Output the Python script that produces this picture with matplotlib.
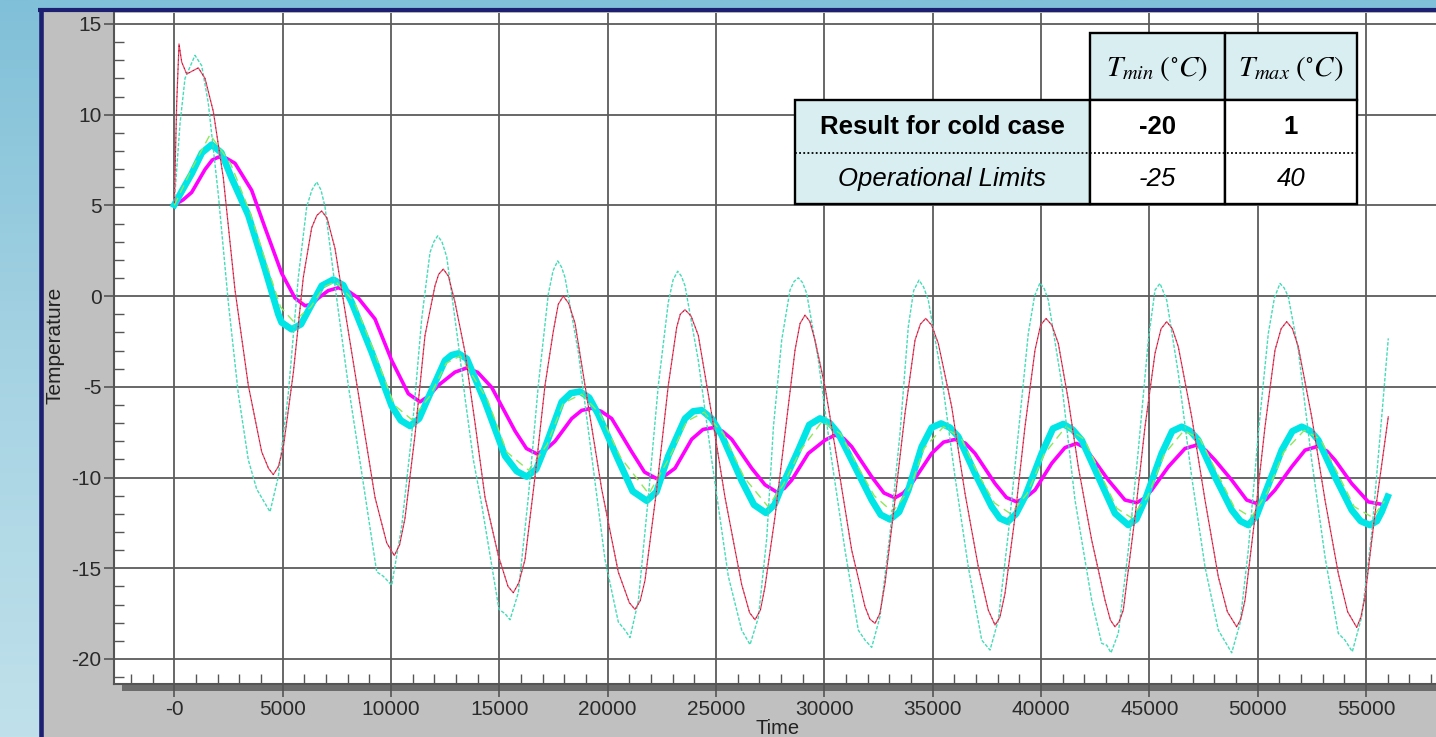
import numpy as np
import matplotlib
matplotlib.use("Agg")
import matplotlib.pyplot as plt
from matplotlib.patches import Rectangle
from matplotlib.ticker import MultipleLocator
from matplotlib.colors import LinearSegmentedColormap

plt.rcParams['font.family'] = ['Liberation Sans', 'DejaVu Sans']
plt.rcParams['mathtext.fontset'] = 'stix'
plt.rcParams['axes.unicode_minus'] = False

# ---- data (time in s, temperature in degC) ----
red_t = [0, 110, 217, 341, 572, 1108, 1417, 1800, 2262, 2801, 3416, 4032, 4350, 4569,
         4800, 5030, 5492, 5953, 6341, 6580, 6802, 7050, 7416, 8030, 8647, 9262, 9802,
         10153, 10400, 10647, 11108, 11570, 12031, 12200, 12414, 12650, 12954, 13416,
         13877, 14339, 14953, 15400, 15645, 15900, 16185, 16647, 17108, 17491, 17720,
         17952, 18200, 18492, 19106, 19724, 20491, 21000, 21261, 21500, 21723, 22263,
         22798, 23186, 23350, 23569, 23850, 24183, 24801, 25415, 26185, 26550, 26800,
         27050, 27261, 27723, 28184, 28646, 28877, 29107, 29330, 29569, 30030, 30644,
         31262, 31876, 32100, 32338, 32560, 32799, 33260, 33722, 34184, 34430, 34677,
         34950, 35259, 35877, 36492, 37105, 37566, 37876, 38100, 38337, 38799, 39259,
         39721, 39980, 40230, 40500, 40798, 41259, 41720, 42338, 42953, 43200, 43413,
         43600, 43796, 44336, 44798, 45259, 45540, 45799, 46060, 46335, 46952, 47567,
         48181, 48600, 49030, 49220, 49413, 49874, 50336, 50797, 51080, 51337, 51600,
         51872, 52490, 53105, 53719, 54150, 54568, 54760, 54951, 55413, 56026]
red_v = [5.15, 10.6, 13.9, 12.9, 12.24, 12.58, 12.0, 10.18, 6.52, 0.34, -4.92, -8.58,
         -9.5, -9.84, -9.4, -8.35, -4.23, 1.03, 3.77, 4.45, 4.69, 4.3, 2.63, -1.94, -6.52,
         -11.09, -13.6, -14.3, -13.7, -12.24, -7.66, -2.17, 0.57, 1.2, 1.49, 1.1, -0.34,
         -3.09, -6.98, -11.09, -14.3, -16.0, -16.35, -15.8, -14.52, -9.95, -4.92, -1.94,
         -0.45, 0.0, -0.4, -1.49, -6.06, -10.64, -15.21, -16.9, -17.27, -16.8, -15.67,
         -10.64, -4.92, -1.72, -1.0, -0.75, -1.1, -2.17, -6.52, -11.09, -15.9, -17.45,
         -17.84, -17.3, -16.02, -12.16, -7.57, -2.98, -1.51, -1.05, -1.4, -2.43, -5.0,
         -9.41, -14.0, -17.12, -17.8, -18.04, -17.5, -15.84, -11.24, -6.47, -2.43, -1.55,
         -1.23, -1.6, -2.61, -6.1, -10.88, -14.92, -17.31, -18.13, -17.7, -16.39, -12.16,
         -7.2, -2.98, -1.6, -1.23, -1.6, -2.61, -5.73, -9.41, -13.45, -16.76, -17.85,
         -18.23, -17.95, -17.31, -12.16, -7.2, -3.16, -1.8, -1.41, -1.8, -2.79, -6.65,
         -11.24, -15.47, -17.4, -18.23, -17.8, -16.76, -12.16, -7.2, -2.98, -1.8, -1.41,
         -1.8, -2.79, -6.65, -11.24, -15.29, -17.4, -18.26, -17.7, -16.57, -11.98, -6.65]

teal_t = [0, 263, 494, 955, 1264, 1569, 2031, 2492, 2954, 3416, 3803, 4417, 4800, 5261,
          5723, 6110, 6350, 6572, 6770, 6955, 7416, 8030, 8647, 9341, 9646, 10033, 10494,
          10956, 11417, 11800, 11980, 12156, 12350, 12571, 13107, 13416, 13799, 14186,
          14600, 14985, 15262, 15493, 15876, 16337, 16799, 17260, 17480, 17694, 17870,
          18031, 18645, 19263, 19877, 20491, 20800, 21031, 21414, 21875, 22337, 22798,
          23020, 23232, 23400, 23569, 24183, 24801, 25567, 26185, 26569, 26952, 27339,
          27650, 28031, 28415, 28600, 28798, 28990, 29185, 29721, 30339, 30953, 31567,
          31876, 32185, 32568, 33030, 33491, 33874, 34120, 34368, 34580, 34797, 35415,
          36030, 36643, 37262, 37645, 38027, 38489, 38951, 39412, 39700, 39952, 40150,
          40335, 40953, 41567, 42338, 42799, 43030, 43228, 43566, 44027, 44489, 44951,
          45259, 45490, 45799, 46335, 46952, 47567, 48181, 48799, 49182, 49565, 50027,
          50488, 50770, 51028, 51220, 51412, 51872, 52490, 53105, 53719, 54027, 54365,
          54799, 55260, 55722, 56026]
teal_v = [5.15, 9.5, 12.0, 13.27, 12.7, 10.64, 5.6, -0.34, -5.38, -9.03, -10.64, -11.89,
          -9.95, -5.38, 1.03, 4.92, 5.85, 6.29, 5.85, 4.92, 0.57, -4.92, -9.72, -15.2,
          -15.44, -15.94, -12.69, -7.66, -1.26, 2.4, 3.0, 3.32, 3.0, 2.17, -2.63, -5.6,
          -9.0, -11.5, -14.5, -17.27, -17.5, -17.84, -16.35, -11.09, -4.92, 0.11, 1.4,
          1.94, 1.6, 1.03, -3.09, -8.81, -14.52, -17.96, -18.41, -18.82, -16.81, -11.09,
          -4.92, -0.34, 0.9, 1.37, 1.1, 0.57, -3.55, -9.03, -15.44, -18.41, -19.21, -17.73,
          -13.38, -7.2, -2.43, 0.33, 0.8, 1.01, 0.75, 0.15, -3.53, -9.04, -14.0, -18.41,
          -18.96, -19.36, -17.67, -13.08, -7.57, -1.69, 0.3, 0.88, 0.5, -0.22, -4.45,
          -9.96, -14.92, -18.96, -19.51, -17.86, -13.08, -7.57, -2.06, 0.0, 0.73, 0.4,
          -0.22, -4.81, -11.24, -16.76, -19.14, -19.24, -19.66, -18.59, -14.0, -8.49,
          -2.43, 0.33, 0.7, -0.22, -4.26, -9.96, -14.92, -18.41, -19.66, -18.04, -14.0,
          -7.57, -2.06, -0.1, 0.7, 0.45, -0.04, -2.98, -9.04, -14.37, -18.59, -18.96,
          -19.6, -17.67, -13.08, -6.65, -2.33]

magenta_t = [0, 400, 803, 1417, 1750, 2031, 2400, 2801, 3571, 4186, 4955, 5570, 6032,
             6350, 6646, 7100, 7569, 8000, 8492, 9262, 10033, 10800, 11339, 11750, 12184,
             12954, 13494, 14000, 14648, 15723, 16250, 16725, 17150, 17569, 18340, 18800,
             19263, 19700, 20186, 21109, 21700, 22263, 22700, 23108, 23878, 24400, 24875,
             25300, 25724, 26647, 27261, 27800, 28150, 28493, 29259, 30030, 30491, 30900,
             31262, 32185, 32750, 33260, 33650, 34031, 34953, 35500, 36030, 36500, 36952,
             37876, 38400, 38877, 39300, 39721, 40492, 41106, 41646, 42000, 42338, 43104,
             43874, 44415, 44750, 45107, 45873, 46643, 47183, 47600, 48028, 48799, 49491,
             50027, 50400, 50797, 51568, 52184, 52796, 53200, 53567, 54337, 55104, 55643]
magenta_v = [5.03, 5.3, 5.72, 6.98, 7.5, 7.66, 7.6, 7.32, 5.83, 3.77, 1.26, -0.11, -0.53,
             -0.45, -0.11, 0.3, 0.46, 0.3, -0.11, -1.26, -3.55, -5.38, -5.83, -5.5, -4.92,
             -4.19, -3.96, -4.2, -5.03, -7.43, -8.4, -8.69, -8.45, -8.0, -6.75, -6.3, -6.18,
             -6.35, -6.75, -8.58, -9.7, -10.06, -9.85, -9.49, -7.89, -7.35, -7.25, -7.45,
             -7.89, -9.49, -10.4, -10.8, -10.6, -10.14, -8.67, -7.94, -7.66, -7.85, -8.3,
             -9.96, -10.85, -11.12, -10.85, -10.33, -8.67, -8.05, -7.9, -8.1, -8.67, -10.33,
             -11.1, -11.34, -11.1, -10.69, -9.22, -8.35, -8.12, -8.35, -8.86, -10.14,
             -11.24, -11.39, -11.15, -10.69, -9.41, -8.4, -8.21, -8.5, -9.04, -10.14,
             -11.24, -11.46, -11.2, -10.69, -9.41, -8.49, -8.27, -8.55, -9.04, -10.33,
             -11.34, -11.46]

cyan_t = [0, 400, 803, 1275, 1725, 2175, 2648, 3416, 4186, 4800, 4950, 5417, 5850, 6185,
          6802, 7338, 7800, 8187, 9110, 10033, 10450, 10878, 11300, 11722, 12493, 12800,
          13107, 13500, 14339, 15262, 15800, 16263, 16700, 17108, 17879, 18300, 18723,
          19150, 19568, 20491, 21150, 21801, 22250, 22798, 23569, 23950, 24340, 24800,
          25262, 26185, 26750, 27300, 27700, 28031, 28798, 29300, 29799, 30250, 30644,
          31414, 32185, 32600, 33030, 33450, 33874, 34492, 34950, 35383, 35800, 36182,
          36952, 37723, 38100, 38461, 38850, 39259, 40030, 40550, 41027, 41450, 41877,
          42643, 43413, 44027, 44400, 44798, 45568, 46050, 46492, 46900, 47258, 48028,
          48799, 49200, 49565, 49950, 50336, 51107, 51600, 52030, 52450, 52796, 53567,
          54337, 54750, 55181, 55500, 55722, 55998]
cyan_v = [5.03, 5.9, 6.75, 7.9, 8.35, 7.9, 6.5, 4.46, 1.49, -1.0, -1.45, -1.83, -1.55,
          -0.8, 0.57, 0.91, 0.6, -0.34, -3.09, -6.06, -6.85, -7.16, -6.75, -5.6, -3.55,
          -3.25, -3.16, -3.45, -5.83, -8.81, -9.65, -9.95, -9.55, -8.35, -5.83, -5.35,
          -5.26, -5.6, -6.52, -9.03, -10.75, -11.28, -10.8, -8.81, -6.75, -6.35, -6.29,
          -6.75, -7.66, -10.18, -11.5, -11.95, -11.5, -10.51, -8.49, -7.1, -6.74, -7.0,
          -7.57, -9.41, -11.24, -12.05, -12.31, -11.9, -10.69, -8.3, -7.25, -7.02, -7.25,
          -7.75, -9.77, -11.61, -12.25, -12.44, -12.0, -11.06, -8.67, -7.3, -7.05, -7.35,
          -7.94, -9.96, -11.98, -12.62, -12.3, -11.24, -8.67, -7.45, -7.2, -7.45, -7.94,
          -9.96, -11.79, -12.4, -12.62, -12.1, -10.88, -8.49, -7.45, -7.2, -7.45, -7.94,
          -9.96, -11.79, -12.4, -12.62, -12.4, -11.89, -11.06]

green_t = [0, 800, 1650, 2600, 3500, 4300, 4900, 5500, 6300, 6900, 7450, 8300, 9200,
           10150, 10950, 11800, 12550, 13200, 14450, 15350, 16350, 17200, 17950, 18800,
           19650, 20600, 21900, 22850, 23650, 24450, 25350, 26300, 27400, 28100, 28900,
           29900, 30750, 31500, 32300, 33150, 33950, 34600, 35500, 36300, 37050, 37850,
           38600, 39350, 40150, 41150, 42000, 42750, 43500, 44150, 44900, 45700, 46600,
           47350, 48150, 48900, 49700, 50450, 51200, 52150, 52900, 53700, 54450, 55300,
           55850]
green_v = [5.0, 7.0, 8.9, 7.3, 4.6, 1.6, -0.6, -1.4, -0.6, 0.5, 0.8, -0.3, -3.0, -6.0,
           -6.8, -5.5, -3.7, -3.3, -5.7, -8.6, -9.6, -8.2, -5.9, -5.4, -6.5, -8.9, -10.9,
           -8.9, -6.9, -6.4, -7.6, -10.0, -11.6, -10.4, -8.5, -6.9, -7.6, -9.3, -11.0,
           -11.9, -10.6, -8.4, -7.2, -7.8, -9.7, -11.4, -12.0, -10.9, -8.7, -7.2, -7.9,
           -9.8, -11.7, -12.2, -11.1, -8.7, -7.4, -7.9, -9.8, -11.6, -12.2, -10.8, -8.6,
           -7.4, -7.9, -9.8, -11.6, -12.2, -11.3]

x_ticks = [0, 5000, 10000, 15000, 20000, 25000, 30000, 35000, 40000, 45000, 50000, 55000]
x_labels = ['-0', '5000', '10000', '15000', '20000', '25000', '30000', '35000',
            '40000', '45000', '50000', '55000']
y_ticks = [-20, -15, -10, -5, 0, 5, 10, 15]

row_names = ['Result for cold case', 'Operational Limits']
tmin_vals = ['-20', '-25']
tmax_vals = ['1', '40']
col_heads = [r'$T_{min}\;(^{\circ}C)$', r'$T_{max}\;(^{\circ}C)$']

W, H = 1436, 737
fig = plt.figure(figsize=(W / 100, H / 100), dpi=100)

# slide background, grey panel, navy frame, shadow (pixel coordinates)
bg = fig.add_axes([0, 0, 1, 1], zorder=0)
bg.set_xlim(0, W)
bg.set_ylim(H, 0)
bg.axis('off')
slide = LinearSegmentedColormap.from_list('slide', ['#80c0d8', '#a6d3e3', '#c0e1eb'])
bg.imshow(np.linspace(0, 1, 256).reshape(-1, 1), extent=(0, W, H, 0),
          cmap=slide, aspect='auto')
bg.add_patch(Rectangle((42, 12), W, H, facecolor='#c0c0c0', edgecolor='none'))
bg.plot([40.5, 40.5], [8, H], color='#1d2070', lw=3.3, solid_capstyle='butt')
bg.plot([38, W], [10, 10], color='#1d2070', lw=3.0, solid_capstyle='butt')
bg.add_patch(Rectangle((122, 684), W, 7, facecolor='#6c6c6c', edgecolor='none'))

# main chart
ax = fig.add_axes([114 / W, 1 - 684 / H, (W - 114 + 6) / W, 671 / H], zorder=2)
ax.set_facecolor('white')
ax.plot(magenta_t, magenta_v, color='#ff00ff', lw=2.6, zorder=3)
ax.plot(cyan_t, cyan_v, color='#00e6e6', lw=4.8, zorder=4)
ax.plot(green_t, green_v, color='#8ee85a', lw=1.0, dashes=(6, 4), zorder=5)
ax.plot(teal_t, teal_v, color='#45dcb8', lw=1.0, dashes=(2.5, 1.2), zorder=6)
ax.plot(red_t, red_v, color='#ef4a64', lw=0.9, zorder=7)
ax.plot(red_t, red_v, color='#8a1040', lw=0.6, dashes=(1.5, 4), zorder=7)

ax.set_xlim((114 - 174.3) * 46.15, (W + 6 - 174.3) * 46.15)
ax.set_ylim((296.1 - 684) / 18.143, (296.1 - 13) / 18.143)
ax.set_xticks(x_ticks)
ax.set_xticklabels(x_labels)
ax.set_yticks(y_ticks)
ax.xaxis.set_minor_locator(MultipleLocator(1000))
ax.yaxis.set_minor_locator(MultipleLocator(1))
ax.tick_params(which='major', direction='out', color='#555555', width=1.2,
               labelsize=15, labelcolor='#2a2a2a')
ax.tick_params(axis='x', which='major', length=9.5, pad=2)
ax.tick_params(axis='y', which='major', length=7, pad=2)
ax.tick_params(which='minor', direction='in', color='#555555', width=1.0, length=7.5)
ax.grid(which='major', color='#5c5c5c', lw=1.3)
ax.set_axisbelow(True)
for side in ['top', 'right']:
    ax.spines[side].set_visible(False)
for side in ['left', 'bottom']:
    ax.spines[side].set_color('#555555')
    ax.spines[side].set_linewidth(1.5)

ax.set_ylabel('Temperature', fontsize=15, color='#222222')
ax.yaxis.set_label_coords(-0.037, 0.505)
ax.set_xlabel('Time', fontsize=14.5, color='#222222')
ax.xaxis.set_label_coords(0.5, -0.052)

# result table (pixel coordinates)
ov = fig.add_axes([0, 0, 1, 1], zorder=5)
ov.set_xlim(0, W)
ov.set_ylim(H, 0)
ov.axis('off')
fill = '#d9eef1'
col_x = [1090, 1225, 1357]
row_y = [100, 153, 204]
for i in range(2):
    ov.add_patch(Rectangle((col_x[i], 33), col_x[i + 1] - col_x[i], 67,
                           facecolor=fill, edgecolor='black', lw=1.7))
    ov.text((col_x[i] + col_x[i + 1]) / 2, 68, col_heads[i], fontsize=21,
            ha='center', va='center')
ov.add_patch(Rectangle((795, 100), 295, 104, facecolor=fill, edgecolor='black', lw=1.7))
for i in range(2):
    ov.add_patch(Rectangle((col_x[i], 100), col_x[i + 1] - col_x[i], 104,
                           facecolor='white', edgecolor='black', lw=1.7))
ov.plot([795, 1357], [153, 153], color='black', lw=1.3, linestyle=(0, (1, 1.3)))
styles = [dict(fontweight='bold'), dict(fontstyle='italic')]
for r in range(2):
    yc = (row_y[r] + row_y[r + 1]) / 2
    ov.text(942, yc, row_names[r], fontsize=18.5, ha='center', va='center', **styles[r])
    ov.text(1157, yc, tmin_vals[r], fontsize=18.5, ha='center', va='center', **styles[r])
    ov.text(1291, yc, tmax_vals[r], fontsize=18.5, ha='center', va='center', **styles[r])

fig.savefig('out.png', dpi=100)
